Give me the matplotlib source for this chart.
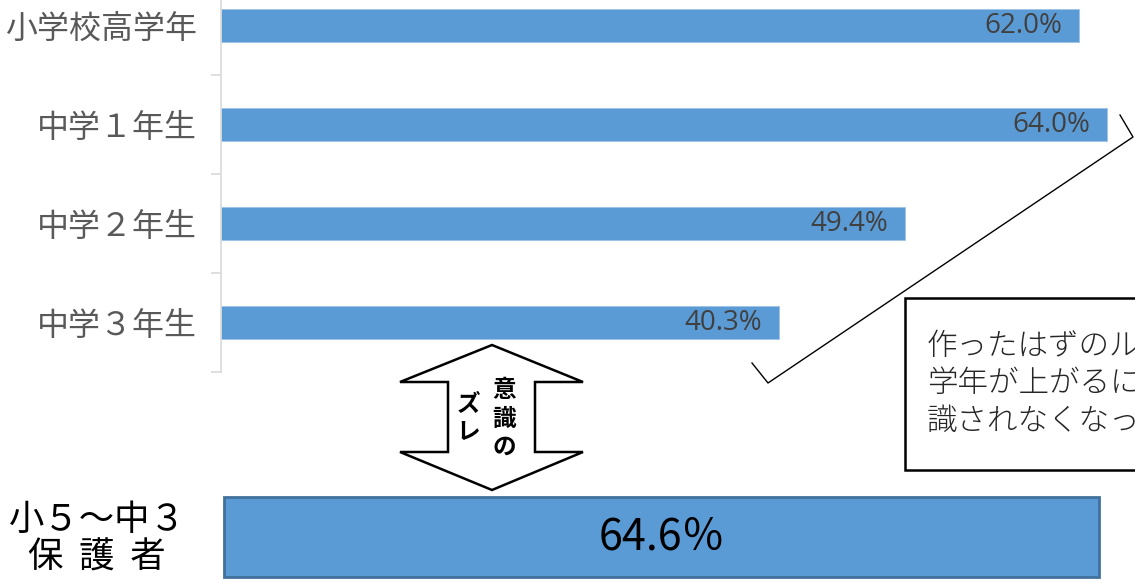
#!/usr/bin/env python3
"""School-year rule awareness bar chart with parent comparison bar."""

import matplotlib
matplotlib.use('Agg')
import matplotlib.pyplot as plt
import matplotlib.patches as mpatches
from matplotlib.lines import Line2D

plt.rcParams['font.family'] = ['Noto Sans CJK JP', 'DejaVu Sans']

# ── DATA ──────────────────────────────────────────────────────────────────
categories = ['小学校高学年', '中学１年生', '中学２年生', '中学３年生']
values = [62.0, 64.0, 49.4, 40.3]

parent_label = '小５～中３\n保  護  者'
parent_value = 64.6

gap_label_right = '意識の'
gap_label_left = 'ズレ'
note_lines = ['作ったはずのルールが、', '学年が上がるにつれて意', '識されなくなっている。']

BAR_COLOR = '#5B9BD5'
W, H = 1135, 583


def px(x, y):
    """Pixel position (from top-left) to figure fraction."""
    return x / W, 1 - y / H


fig = plt.figure(figsize=(W / 100, H / 100), dpi=100)

# ── TOP CHART ─────────────────────────────────────────────────────────────
ax = fig.add_axes([221 / W, (H - 372) / H, 66 * 13.84 / W, 396 / H])
ypos = list(range(len(categories)))
ax.barh(ypos, values, height=0.34, color=BAR_COLOR, edgecolor='#9dc3e6', linewidth=0.6)
ax.set_xlim(0, 66)
ax.set_ylim(3.5, -0.5)
for y, v in zip(ypos, values):
    ax.annotate(f'{v:.1f}%', xy=(v, y), xytext=(-12, 0), textcoords='offset points',
                ha='right', va='center', fontsize=20, color='#404040',
                family=['Open Sans', 'DejaVu Sans'])

ax.set_yticks(ypos)
ax.set_yticklabels(categories, fontsize=23, color='#595959')
ax.tick_params(axis='y', which='major', length=0, pad=17)
ax.set_yticks([0.5, 1.5, 2.5, 3.5], minor=True)
ax.tick_params(axis='y', which='minor', length=7, color='#d9d9d9', width=1.2)
ax.set_xticks([])
for side in ['top', 'right', 'bottom']:
    ax.spines[side].set_visible(False)
ax.spines['left'].set_color('#d9d9d9')
ax.spines['left'].set_linewidth(1.2)

# ── BOTTOM BAR (parents) ──────────────────────────────────────────────────
ax2 = fig.add_axes([224 / W, (H - 584) / H, 908 / W, 94 / H])
ax2.barh([0], [parent_value], height=80 / 94, color=BAR_COLOR,
         edgecolor='#41719C', linewidth=2, clip_on=False)
ax2.set_xlim(0, 67)
ax2.set_ylim(-0.5, 0.5)
ax2.text(parent_value / 2, 0, f'{parent_value}％', ha='center', va='center',
         fontsize=31, color='black')
ax2.axis('off')

fig.text(*px(97, 539), parent_label, ha='center', va='center', fontsize=25.5,
         color='black', linespacing=1.05)

# ── DOUBLE ARROW ──────────────────────────────────────────────────────────
arrow_pts = [(492, 345), (583, 382), (535, 382), (535, 452), (583, 452),
             (492, 490), (400, 452), (448, 452), (448, 382), (400, 382)]
fig.patches.append(mpatches.Polygon([px(x, y) for x, y in arrow_pts], closed=True,
                                    transform=fig.transFigure, facecolor='white',
                                    edgecolor='black', linewidth=1.8, zorder=5))
for i, ch in enumerate(gap_label_right):
    fig.text(*px(504, 390 + i * 28.5), ch, ha='center', va='center', fontsize=17,
             fontweight='bold', zorder=6)
for i, ch in enumerate(gap_label_left):
    fig.text(*px(468, 404 + i * 28), ch, ha='center', va='center', fontsize=17,
             fontweight='bold', zorder=6)

# ── CALLOUT ───────────────────────────────────────────────────────────────
call_pts = [(752, 363), (768, 383), (1133, 137), (1120, 115)]
fig.add_artist(Line2D([px(x, y)[0] for x, y in call_pts],
                      [px(x, y)[1] for x, y in call_pts],
                      transform=fig.transFigure, color='black', linewidth=1.0))

fig.patches.append(mpatches.Rectangle(px(905, 470), 400 / W, 172 / H,
                                      transform=fig.transFigure, facecolor='white',
                                      edgecolor='black', linewidth=1.8, zorder=5))
for i, line in enumerate(note_lines):
    fig.text(*px(927, 346 + i * 37.5), line, ha='left', va='center', fontsize=22,
             fontweight='light', color='#262626', zorder=6)

fig.savefig('out.png', dpi=100)
plt.close(fig)
